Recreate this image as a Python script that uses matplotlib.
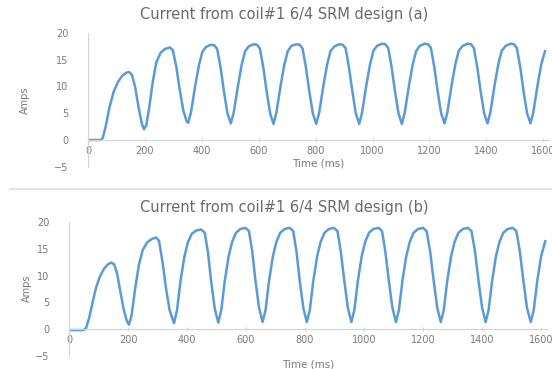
import matplotlib.pyplot as plt
from matplotlib.lines import Line2D

# coil#1 current, design (a)
time_a = [0, 45, 52, 62, 75, 90, 105, 120, 135, 145, 155, 166, 178, 190, 197,
          205, 215, 228, 240, 255, 270, 288, 298, 310, 322, 335, 346, 352,
          362, 377, 390, 402, 415, 432, 444, 454, 466, 478, 490, 502,
          512, 527, 540, 552, 565, 582, 594, 604, 616, 628, 640, 652,
          662, 677, 690, 702, 715, 732, 744, 754, 766, 778, 790, 802,
          812, 827, 840, 852, 866, 883, 895, 905, 917, 929, 941, 953,
          963, 978, 991, 1003, 1016, 1033, 1045, 1055, 1067, 1079, 1091, 1103,
          1113, 1128, 1141, 1153, 1166, 1183, 1195, 1205, 1217, 1229, 1241, 1253,
          1263, 1278, 1291, 1303, 1317, 1334, 1346, 1356, 1368, 1380, 1392, 1404,
          1414, 1429, 1442, 1454, 1468, 1485, 1497, 1507, 1519, 1531, 1543, 1555,
          1565, 1580, 1593, 1606]
amps_a = [0, 0, 0.4, 2.5, 6.0, 9.0, 10.8, 12.0, 12.6, 12.7, 12.1, 9.8, 6.0, 2.9, 2.0,
          2.8, 6.0, 11.0, 14.5, 16.3, 17.0, 17.3, 16.8, 13.8, 9.5, 5.5, 3.6, 3.2,
          5.2, 10.2, 14.0, 16.5, 17.4, 17.8, 17.7, 17.0, 13.5, 9.0, 5.0, 3.1,
          5.1, 10.1, 14.1, 16.6, 17.5, 17.9, 17.8, 17.1, 13.6, 9.0, 5.0, 3.0,
          5.1, 10.2, 14.1, 16.6, 17.6, 17.9, 17.8, 17.1, 13.5, 9.0, 5.0, 3.0,
          5.0, 10.1, 14.0, 16.6, 17.5, 17.9, 17.8, 17.2, 13.6, 9.1, 5.0, 3.0,
          5.1, 10.2, 14.1, 16.7, 17.6, 18.0, 17.9, 17.2, 13.6, 9.0, 5.0, 3.0,
          5.1, 10.2, 14.1, 16.6, 17.6, 18.0, 17.9, 17.2, 13.6, 9.0, 5.0, 3.1,
          5.2, 10.3, 14.2, 16.7, 17.6, 18.0, 17.9, 17.2, 13.6, 9.0, 5.0, 3.1,
          5.2, 10.3, 14.2, 16.7, 17.6, 18.0, 17.9, 17.2, 13.6, 9.0, 5.0, 3.1,
          5.2, 10.3, 14.2, 16.6]

# coil#1 current, design (b)
time_b = [0, 50, 58, 68, 80, 92, 104, 118, 132, 143, 153, 163, 174, 186, 196, 203,
          212, 224, 237, 250, 265, 280, 295, 305, 317, 329, 341, 356,
          366, 378, 391, 403, 416, 431, 448, 460, 471, 482, 494, 506,
          516, 528, 541, 553, 566, 581, 598, 610, 621, 632, 644, 656,
          666, 678, 691, 703, 716, 731, 748, 760, 771, 782, 794, 806,
          816, 828, 841, 853, 866, 881, 898, 910, 921, 933, 945, 957,
          967, 979, 992, 1004, 1017, 1032, 1049, 1061, 1072, 1084, 1096, 1108,
          1118, 1130, 1143, 1155, 1168, 1183, 1200, 1212, 1224, 1236, 1248, 1260,
          1270, 1282, 1295, 1307, 1320, 1335, 1352, 1364, 1376, 1388, 1400, 1412,
          1422, 1434, 1447, 1459, 1472, 1487, 1504, 1516, 1528, 1540, 1552, 1565,
          1575, 1587, 1600, 1614]
amps_b = [-0.2, -0.2, 0.2, 2.0, 5.0, 7.8, 9.7, 11.2, 12.1, 12.4, 12.1, 10.4, 7.0, 3.5, 1.5, 0.8,
          2.5, 7.5, 12.0, 14.8, 16.2, 16.8, 17.1, 16.5, 12.5, 7.5, 3.5, 1.1,
          3.5, 9.0, 13.5, 16.2, 17.8, 18.4, 18.6, 18.0, 14.3, 8.8, 3.8, 1.2,
          3.5, 9.0, 13.6, 16.3, 18.0, 18.7, 18.9, 18.3, 14.5, 9.0, 4.0, 1.3,
          3.5, 9.0, 13.6, 16.3, 18.0, 18.7, 18.9, 18.3, 14.5, 9.0, 4.0, 1.3,
          3.5, 9.0, 13.6, 16.3, 18.0, 18.7, 18.9, 18.3, 14.5, 9.0, 4.0, 1.3,
          3.5, 9.0, 13.6, 16.3, 18.0, 18.7, 18.9, 18.3, 14.5, 9.0, 4.0, 1.3,
          3.5, 9.0, 13.6, 16.3, 18.0, 18.7, 18.9, 18.3, 14.5, 9.0, 4.0, 1.3,
          3.5, 9.0, 13.6, 16.3, 18.0, 18.7, 18.9, 18.3, 14.5, 9.0, 4.0, 1.3,
          3.5, 9.0, 13.6, 16.3, 18.0, 18.7, 18.9, 18.3, 14.5, 9.0, 4.0, 1.3,
          3.5, 9.0, 13.6, 16.4]

x_ticks = [0, 200, 400, 600, 800, 1000, 1200, 1400, 1600]
y_ticks = [-5, 0, 5, 10, 15, 20]
titles = ["Current from coil#1 6/4 SRM design (a)",
          "Current from coil#1 6/4 SRM design (b)"]

line_color = '#5b9bd5'
title_color = '#6a6a6a'
text_color = '#7a7a7a'
axis_color = '#d4d4d4'

W, H = 552, 369
fig = plt.figure(figsize=(W / 100, H / 100), dpi=100)
plt.rcParams['font.family'] = 'DejaVu Sans'

# axes boxes in pixels: left, x at 1620 ms, y at 20, y at -5
boxes = [(88, 549, 33, 166.75), (69, 547, 222, 355.75)]
title_y = [14, 208]
xlabel_y = [0.065, -0.03]
ylabel_x = [(30, 100), (32, 288)]

for i, (t, a) in enumerate([(time_a, amps_a), (time_b, amps_b)]):
    x0, x1, ytop, ybot = boxes[i]
    ax = fig.add_axes([x0 / W, 1 - ybot / H, (x1 - x0) / W, (ybot - ytop) / H])
    ax.plot(t, a, color=line_color, lw=1.8, solid_joinstyle='round')
    ax.set_xlim(0, 1620)
    ax.set_ylim(-5, 20)
    ax.set_xticks(x_ticks)
    ax.set_yticks(y_ticks)

    for s in ['top', 'right']:
        ax.spines[s].set_visible(False)
    ax.spines['bottom'].set_position(('data', 0))
    ax.spines['bottom'].set_color(axis_color)
    ax.spines['left'].set_color(axis_color)
    ax.tick_params(axis='x', length=3, direction='inout', color=axis_color,
                   labelsize=7, labelcolor=text_color, pad=3)
    ax.tick_params(axis='y', length=0, labelsize=7, labelcolor=text_color, pad=14)

    ax.set_xlabel("Time (ms)", fontsize=7.5, color=text_color)
    ax.xaxis.set_label_coords(0.5, xlabel_y[i])
    ax.set_ylabel("Amps", fontsize=7, color=text_color)
    lx, ly = ylabel_x[i]
    ax.yaxis.set_label_coords((lx - x0) / (x1 - x0), (ybot - ly) / (ybot - ytop))

    fig.text(0.515, 1 - title_y[i] / H, titles[i], ha='center', va='center',
             fontsize=10.5, color=title_color)

# separator between the two chart boxes
fig.add_artist(Line2D([10 / W, 1], [1 - 189 / H, 1 - 189 / H],
                      transform=fig.transFigure, color='#e4e4e4', lw=1.5))

fig.savefig('out.png', dpi=100)
